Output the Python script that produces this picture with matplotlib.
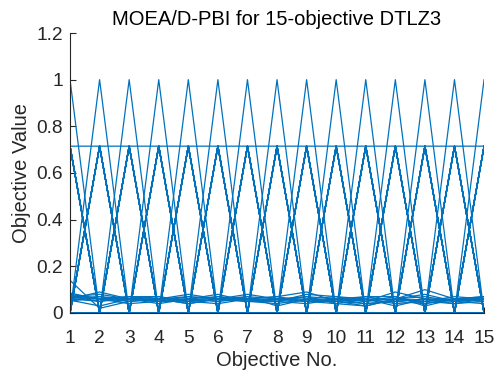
import matplotlib
matplotlib.use("Agg")
import matplotlib.pyplot as plt
import numpy as np
from itertools import combinations

n_obj = 15
objectives = list(range(1, n_obj + 1))

# boundary solutions: one objective at 1, rest at 0
extreme_value = 1.0
# two-objective solutions on the sphere
pair_value = 0.715

# solutions that stayed near the origin
low_lines = [
    [0.14, 0.02, 0.05, 0.06, 0.04, 0.06, 0.05, 0.04, 0.06, 0.05, 0.03, 0.06, 0.05, 0.04, 0.06],
    [0.08, 0.06, 0.07, 0.06, 0.07, 0.06, 0.07, 0.06, 0.05, 0.06, 0.07, 0.05, 0.06, 0.05, 0.07],
    [0.07, 0.08, 0.06, 0.05, 0.06, 0.07, 0.06, 0.05, 0.07, 0.06, 0.05, 0.07, 0.04, 0.06, 0.05],
    [0.06, 0.05, 0.07, 0.07, 0.05, 0.06, 0.08, 0.06, 0.05, 0.04, 0.06, 0.06, 0.07, 0.05, 0.06],
    [0.065, 0.07, 0.05, 0.06, 0.06, 0.05, 0.06, 0.07, 0.09, 0.05, 0.04, 0.05, 0.06, 0.06, 0.05],
    [0.055, 0.03, 0.06, 0.07, 0.05, 0.07, 0.05, 0.06, 0.06, 0.07, 0.05, 0.09, 0.06, 0.05, 0.06],
    [0.075, 0.06, 0.04, 0.05, 0.07, 0.06, 0.06, 0.05, 0.04, 0.06, 0.05, 0.06, 0.10, 0.06, 0.07],
    [0.05, 0.07, 0.06, 0.04, 0.06, 0.05, 0.07, 0.03, 0.06, 0.05, 0.06, 0.04, 0.05, 0.07, 0.06],
    [0.085, 0.06, 0.05, 0.06, 0.08, 0.06, 0.05, 0.06, 0.07, 0.04, 0.03, 0.06, 0.08, 0.05, 0.04],
    [0.06, 0.09, 0.06, 0.05, 0.05, 0.04, 0.06, 0.07, 0.05, 0.06, 0.04, 0.05, 0.04, 0.06, 0.07],
    [0.07, 0.05, 0.06, 0.06, 0.04, 0.06, 0.05, 0.05, 0.08, 0.07, 0.06, 0.03, 0.06, 0.04, 0.05],
    [0.06, 0.06, 0.07, 0.05, 0.06, 0.08, 0.05, 0.06, 0.05, 0.05, 0.07, 0.07, 0.03, 0.06, 0.06],
]

y_ticks = [0, 0.2, 0.4, 0.6, 0.8, 1, 1.2]
y_ticklabels = ["0", "0.2", "0.4", "0.6", "0.8", "1", "1.2"]

# build the population
pop = []
for i in range(n_obj):
    row = np.zeros(n_obj)
    row[i] = extreme_value
    pop.append(row)
for i, j in combinations(range(n_obj), 2):
    row = np.zeros(n_obj)
    row[i] = pair_value
    row[j] = pair_value
    pop.append(row)
for r in low_lines:
    pop.append(np.array(r))

plt.rcParams['font.family'] = ['Liberation Sans', 'DejaVu Sans']

fig = plt.figure(figsize=(4.98, 3.76), dpi=100)
ax = fig.add_axes([0.1406, 0.1676, 0.972 - 0.1406, 0.9122 - 0.1676])

for row in pop:
    ax.plot(objectives, row, color='#0072BD', linewidth=0.9)

ax.set_xlim(1, n_obj)
ax.set_ylim(0, 1.2)
ax.set_xticks(objectives)
ax.set_yticks(y_ticks)
ax.set_yticklabels(y_ticklabels)
ax.spines['top'].set_visible(False)
ax.spines['right'].set_visible(False)
for s in ('left', 'bottom'):
    ax.spines[s].set_color('#262626')
    ax.spines[s].set_linewidth(0.8)
ax.tick_params(direction='in', length=4, width=0.8, colors='#262626',
               labelsize=13.8, pad=5)
ax.tick_params(axis='x', pad=12)
ax.set_xlabel('Objective No.', fontsize=14.5, color='#262626', labelpad=3)
ax.set_ylabel('Objective Value', fontsize=14.5, color='#262626', labelpad=4)
ax.set_title('MOEA/D-PBI for 15-objective DTLZ3', fontsize=14.5, pad=6)

fig.savefig('out.png', dpi=100)
